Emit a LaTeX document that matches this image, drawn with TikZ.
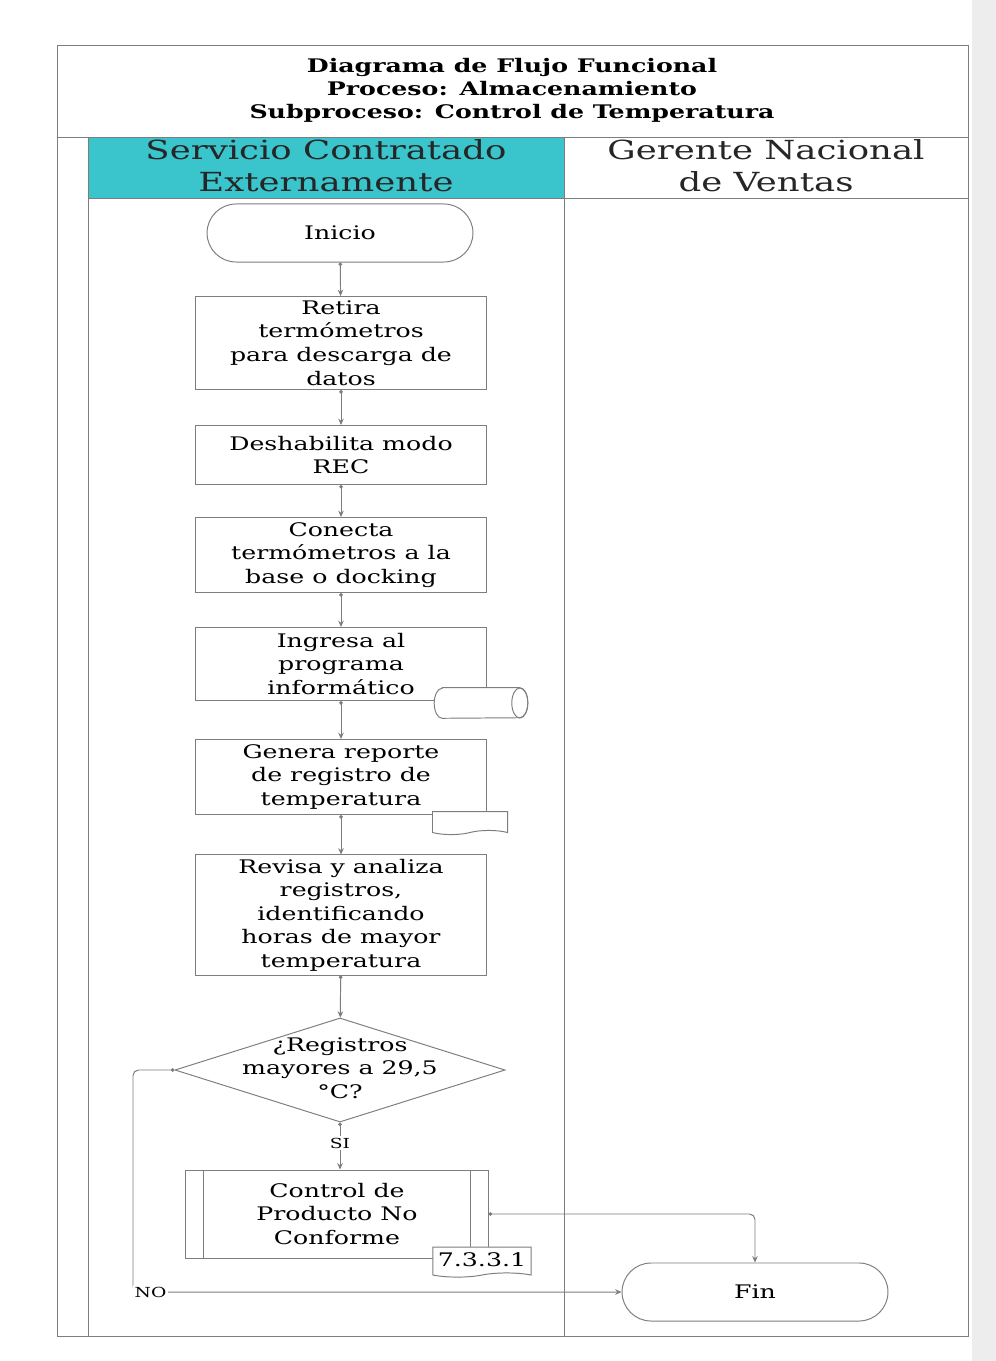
\documentclass[tikz,border=0pt]{standalone}
\usepackage{fontspec}
\setmainfont{DejaVu Serif}[FakeStretch=1.35]
\usetikzlibrary{positioning,arrows.meta,calc,shapes.geometric,shapes.misc,shapes.symbols}
\definecolor{lanecyan}{RGB}{58,196,204}
\definecolor{lnc}{RGB}{125,125,125}
\newcommand\ttlfont{\bfseries\fontsize{13.5}{16.6}\selectfont}
\newcommand\hdrfont{\fontsize{19}{23}\selectfont}
\newcommand\boxfont{\fontsize{13.5}{17}\selectfont}
\newcommand\lblfont{\fontsize{10}{12}\selectfont}
\tikzset{
  x=0.01in,y=-0.01in,
  >={Stealth[length=1.6mm,width=1.4mm]},
  lane/.style={draw=lnc,line width=0.7pt},
  proc/.style={draw=lnc,line width=0.7pt,fill=white,minimum width=2.9in,
    align=center,font=\boxfont,inner sep=2pt},
  term/.style={rounded rectangle,draw=lnc,line width=0.7pt,fill=white,
    minimum width=2.75in,minimum height=0.58in,font=\boxfont},
  decis/.style={diamond,draw=lnc,line width=0.7pt,fill=white,
    minimum width=3.3in,minimum height=1.04in,inner sep=0pt},
  dbase/.style={rectangle,minimum width=0.93in,minimum height=0.30in,inner sep=0pt},
  docm/.style={tape,tape bend top=none,tape bend bottom=in and out,
    tape bend height=3pt,draw=lnc,line width=0.7pt,fill=white,inner sep=1pt},
  flow/.style={{Circle[length=0.9mm]}->,draw=lnc,line width=0.7pt},
  lbl/.style={font=\lblfont,fill=white,inner sep=1pt},
  hdr/.style={font=\hdrfont,align=center,text=black!85},
}
\begin{document}
\begin{tikzpicture}
  \useasboundingbox (0,0) rectangle (996,1361);
  \fill[white] (0,0) rectangle (996,1361);
  \fill[gray!14] (972,0) rectangle (996,1361);
  % frame and lanes
  \fill[lanecyan] (88,137) rectangle (564,198);
  \draw[lane] (57,45) rectangle (968,1336);
  \draw[lane] (57,137) -- (968,137);
  \draw[lane] (88,198) -- (968,198);
  \draw[lane] (88,137) -- (88,1336);
  \draw[lane] (564,137) -- (564,1336);
  \node[font=\ttlfont,align=center] (title) at (512,90)
    {Diagrama de Flujo Funcional\\Proceso: Almacenamiento\\Subproceso: Control de Temperatura};
  \node[hdr] (lane1) at (326,166) {Servicio Contratado\\Externamente};
  \node[hdr] (lane2) at (766,166) {Gerente Nacional\\de Ventas};
  % flow
  \node[term] (ini) at (340,233) {Inicio};
  \node[proc,minimum height=0.93in] (b1) at (341,343)
    {Retira\\termómetros\\para descarga de\\datos};
  \node[proc,minimum height=0.59in] (b2) at (341,455) {Deshabilita modo\\REC};
  \node[proc,minimum height=0.75in] (b3) at (341,555)
    {Conecta\\termómetros a la\\base o docking};
  \node[proc,minimum height=0.73in] (b4) at (341,664)
    {Ingresa al\\programa\\informático};
  \node[proc,minimum height=0.75in] (b5) at (341,777)
    {Genera reporte\\de registro de\\temperatura};
  \node[proc,minimum height=1.2in] (b6) at (341,915)
    {Revisa y analiza\\registros,\\identificando\\horas de mayor\\temperatura};
  \node[decis] (dec) at (340,1070) {};
  \node[font=\boxfont,align=center] (dectxt) at (340,1068)
    {¿Registros\\mayores a 29,5\\°C?};
  \node[proc,minimum width=3.02in,minimum height=0.88in] (ctrl) at (337,1214)
    {Control de\\Producto No\\Conforme};
  \draw[lane] ($(ctrl.north west)+(18,0)$) -- ($(ctrl.south west)+(18,0)$);
  \draw[lane] ($(ctrl.north east)+(-18,0)$) -- ($(ctrl.south east)+(-18,0)$);
  \node[term] (fin) at (755,1292) {Fin};
  % database drum on box 4
  \node[dbase] (db) at (481,703) {};
  \draw[lane,fill=white] ($(db.north west)+(8,0)$) -- ($(db.north east)+(-8,0)$)
    arc[start angle=90,end angle=-90,x radius=0.08in,y radius=0.15in]
    -- ($(db.south west)+(8,0)$)
    arc[start angle=270,end angle=90,x radius=0.08in,y radius=0.15in] -- cycle;
  \draw[lane] ($(db.east)+(-8,0)$) ellipse[x radius=0.08in,y radius=0.15in];
  \node[docm,minimum width=0.75in,minimum height=0.23in] (rep) at (470,821) {};
  \node[docm,minimum width=0.98in,minimum height=0.30in,font=\boxfont] (ref) at (482,1260) {7.3.3.1};
  \coordinate (nocorner) at (133,1292);
  \draw[flow] (ini) -- (b1);
  \draw[flow] (b1) -- (b2);
  \draw[flow] (b2) -- (b3);
  \draw[flow] (b3) -- (b4);
  \draw[flow] (b4) -- (b5);
  \draw[flow] (b5) -- (b6);
  \draw[flow] (b6) -- (dec);
  \draw[flow] (dec.south) -- (dec.south |- ctrl.north);
  \draw[flow,rounded corners=4] (ctrl.east) -| (fin.north);
  \draw[flow,rounded corners=4] (dec.west) -| (nocorner) -- (fin.west);
  \node[lbl] (si) at (340,1143) {SI};
  \node[lbl,anchor=west] (no) at (nocorner) {NO};
\end{tikzpicture}
\end{document}
